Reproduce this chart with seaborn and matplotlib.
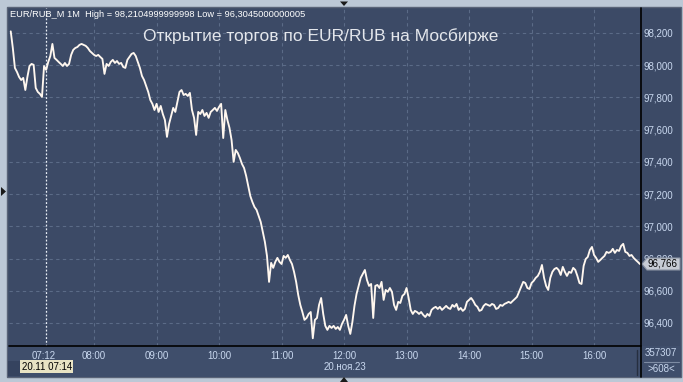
import numpy as np
import pandas as pd
import matplotlib
matplotlib.use("Agg")
import matplotlib.pyplot as plt
import matplotlib.dates as mdates
from matplotlib.patches import Rectangle, Polygon
from matplotlib.ticker import FuncFormatter
import seaborn as sns

# ---------------- data ----------------
session_date = "2023-11-20"
first_bar = "06:40"
bar_step = "2min"
prices = [
    98.210, 98.107, 97.983, 97.958, 97.927, 97.908, 97.921, 97.846, 97.927, 97.995, 98.008, 98.002,
    97.859, 97.834, 97.822, 97.803, 97.995, 97.971, 98.020, 98.057, 98.132, 98.045, 98.033, 98.020,
    98.008, 97.995, 98.014, 97.995, 98.008, 98.064, 98.095, 98.107, 98.113, 98.126, 98.132,
    98.126, 98.120, 98.107, 98.088, 98.076, 98.064, 98.057, 98.064, 98.051, 98.039, 97.946, 98.008,
    97.995, 98.020, 98.033, 98.014, 98.026, 98.008, 98.014, 97.989, 97.983, 98.033, 98.051,
    98.070, 98.076, 98.057, 98.020, 97.983, 97.933, 97.908, 97.871, 97.834, 97.784, 97.760, 97.722,
    97.760, 97.710, 97.747, 97.697, 97.660, 97.555, 97.635, 97.685, 97.735, 97.710, 97.772,
    97.834, 97.846, 97.815, 97.822, 97.809, 97.828, 97.722, 97.673, 97.567, 97.710, 97.697, 97.722,
    97.685, 97.704, 97.673, 97.710, 97.722, 97.735, 97.716, 97.741, 97.760, 97.548, 97.722,
    97.660, 97.611, 97.536, 97.400, 97.474, 97.455, 97.424, 97.387, 97.362, 97.313, 97.251, 97.188,
    97.151, 97.120, 97.102, 97.064, 97.027, 96.965, 96.903, 96.816, 96.655, 96.773, 96.742,
    96.779, 96.804, 96.779, 96.766, 96.816, 96.804, 96.822, 96.791, 96.766, 96.717, 96.655, 96.574,
    96.512, 96.468, 96.419, 96.431, 96.456, 96.468, 96.305, 96.419, 96.431, 96.512, 96.555,
    96.456, 96.382, 96.357, 96.382, 96.369, 96.382, 96.363, 96.375, 96.357, 96.394, 96.419, 96.450,
    96.382, 96.332, 96.406, 96.506, 96.580, 96.630, 96.680, 96.704, 96.729, 96.667, 96.630,
    96.642, 96.431, 96.630, 96.636, 96.617, 96.655, 96.543, 96.605, 96.593, 96.617, 96.593, 96.512,
    96.481, 96.531, 96.524, 96.568, 96.580, 96.617, 96.555, 96.481, 96.456, 96.475, 96.468,
    96.456, 96.468, 96.450, 96.437, 96.456, 96.444, 96.481, 96.493, 96.500, 96.487, 96.500, 96.481,
    96.493, 96.506, 96.493, 96.487, 96.512, 96.500, 96.518, 96.481, 96.493, 96.475, 96.487,
    96.531, 96.543, 96.555, 96.537, 96.512, 96.500, 96.475, 96.481, 96.506, 96.518, 96.512, 96.506,
    96.518, 96.512, 96.487, 96.493, 96.512, 96.506, 96.518, 96.524, 96.531, 96.524, 96.537,
    96.549, 96.562, 96.593, 96.624, 96.655, 96.648, 96.617, 96.611, 96.648, 96.661, 96.680, 96.692,
    96.717, 96.760, 96.680, 96.630, 96.605, 96.680, 96.717, 96.735, 96.742, 96.729, 96.698,
    96.748, 96.717, 96.692, 96.717, 96.711, 96.742, 96.729, 96.692, 96.648, 96.642, 96.754, 96.797,
    96.810, 96.853, 96.872, 96.822, 96.804, 96.779, 96.791, 96.804, 96.816, 96.841, 96.835,
    96.841, 96.860, 96.835, 96.853, 96.847, 96.878, 96.891, 96.841, 96.835, 96.816, 96.822, 96.804,
    96.791, 96.779, 96.766,
]
price_ticks = [96.4, 96.6, 96.8, 97.0, 97.2, 97.4, 97.6, 97.8, 98.0, 98.2]
hour_ticks = ["08:00", "09:00", "10:00", "11:00", "12:00", "13:00", "14:00", "15:00", "16:00"]
first_tick = "07:12"
cursor_time = "07:14"
view_start, view_end = "06:38:20", "16:45:05"
price_low, price_high = 96.257, 98.355

title = "Открытие торгов по EUR/RUB на Мосбирже"
header = "EUR/RUB_M 1M  High = 98,2104999999998 Low = 96,3045000000005"
date_label = "20.ноя.23"
cursor_label = "20.11 07:14"
volume_label = "357307"
bars_label = ">608<"

# ---------------- style ----------------
sns.set_theme(style="dark")
plt.rcParams["font.family"] = ["Liberation Sans", "DejaVu Sans"]

W, H = 683, 382
TXT = "#c9d8ef"
fig = plt.figure(figsize=(W / 100, H / 100), dpi=100, facecolor="#bcc8d6")

# background / panels layer in pixel coordinates
bg = fig.add_axes([0, 0, 1, 1], zorder=0)
bg.axis("off")
bg.add_patch(Rectangle((7, 7), 674, 370, fc="#3c4a66", ec="#5a6478", lw=1.0))
grad = np.linspace(0, 1, 256)[:, None]
top_c = np.array([64, 78, 105]) / 255
bot_c = np.array([43, 56, 84]) / 255
img = top_c[None, None, :] * (1 - grad[..., None]) + bot_c[None, None, :] * grad[..., None]
bg.imshow(img, extent=(8, 680, 346, 8), aspect="auto", interpolation="bilinear")
bg.add_patch(Rectangle((8, 346), 673, 31, fc="#3f4e6b", ec="none"))
bg.add_patch(Rectangle((8, 361), 12, 15, fc="#35435f", ec="none"))
bg.set_xlim(0, W)
bg.set_ylim(H, 0)

# main chart axes
ax = fig.add_axes([9 / W, 1 - 346 / H, 632 / W, 338 / H], zorder=2)
ax.patch.set_alpha(0)
times = pd.date_range(f"{session_date} {first_bar}", periods=len(prices), freq=bar_step)
df = pd.DataFrame({"time": times, "price": prices})
sns.lineplot(data=df, x="time", y="price", ax=ax, color="#fff7ef",
             linewidth=1.35, estimator=None, zorder=3)

ax.set_xlim(pd.Timestamp(f"{session_date} {view_start}"), pd.Timestamp(f"{session_date} {view_end}"))
ax.set_ylim(price_low, price_high)
ax.set_xlabel("")
ax.set_ylabel("")

ax.yaxis.tick_right()
ax.set_yticks(price_ticks)
ax.yaxis.set_major_formatter(FuncFormatter(lambda v, p: f"{v:.3f}".replace(".", ",")))
ax.tick_params(axis="y", length=0, pad=2, labelsize=7, labelcolor=TXT)

hour_pos = [pd.Timestamp(f"{session_date} {h}") for h in hour_ticks]
ax.set_xticks(hour_pos)
ax.xaxis.set_major_formatter(mdates.DateFormatter("%H:%M"))
ax.set_xticks([pd.Timestamp(f"{session_date} {first_tick}")], labels=[first_tick], minor=True)
ax.tick_params(axis="x", which="both", length=0, pad=3.5, labelsize=7, labelcolor=TXT)

ax.grid(True, which="major", color="#5b6b87", ls=(0, (3, 3)), lw=0.8)
ax.grid(False, which="minor")
ax.axvline(pd.Timestamp(f"{session_date} {cursor_time}"), color="#e8edf5",
           ls=(0, (1.5, 1.5)), lw=0.9, zorder=2)
for s in ax.spines.values():
    s.set_visible(False)

# overlay layer in pixel coordinates
ov = fig.add_axes([0, 0, 1, 1], zorder=5)
ov.set_xlim(0, W)
ov.set_ylim(H, 0)
ov.axis("off")
ov.plot([9, 641], [346, 346], color="black", lw=1.2)
ov.plot([641, 641], [8, 376.5], color="black", lw=1.2)
ov.plot([636.5, 636.5], [350, 375], color="#262f40", lw=1.0)
ov.plot([644, 679], [361.5, 361.5], color="#7d8ba3", lw=0.8)

ov.text(10, 14.5, header, fontsize=6.7, color="white", va="center", ha="left")
ov.text(321, 36, title, fontsize=12.5, color="#e4e7ec", va="center", ha="center")
ov.text(345, 367.5, date_label, fontsize=7, color=TXT, va="center", ha="center")
ov.add_patch(Rectangle((20, 360), 53, 13, fc="#e8e3c4", ec="none"))
ov.text(22, 366.5, cursor_label, fontsize=7, color="black", va="center", ha="left")
ov.text(661, 353.5, volume_label, fontsize=7, color=TXT, va="center", ha="center")
ov.text(661, 369, bars_label, fontsize=7, color=TXT, va="center", ha="center")

# small navigation triangles
ov.add_patch(Polygon([(340, 1.5), (348, 1.5), (344, 6)], closed=True, fc="#1a1a1a", ec="none"))
ov.add_patch(Polygon([(340, 382), (348, 382), (344, 377)], closed=True, fc="#1a1a1a", ec="none"))
ov.add_patch(Polygon([(1, 187), (6, 191.5), (1, 196)], closed=True, fc="#1a1a1a", ec="none"))

# last price marker
last_t = mdates.date2num(times[-1])
disp = ax.transData.transform((last_t, prices[-1]))
py = H - disp[1]
ov.add_patch(Polygon([(642, py), (647, py - 6), (680, py - 6), (680, py + 6), (647, py + 6)],
                     closed=True, fc="#c6cbd4", ec="#8a93a3", lw=0.8))
ov.text(647.5, py, f"{prices[-1]:.3f}".replace(".", ","), fontsize=7, color="black",
        va="center", ha="left")

fig.savefig("out.png", dpi=100, facecolor=fig.get_facecolor())
